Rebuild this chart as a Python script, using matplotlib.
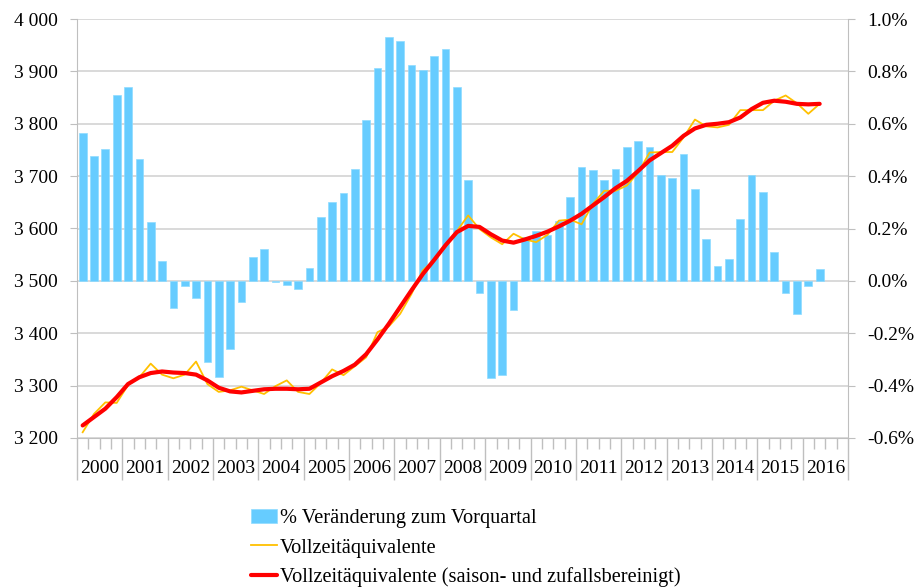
import numpy as np
import matplotlib
matplotlib.use("Agg")
import matplotlib.pyplot as plt
from matplotlib.ticker import FixedLocator

plt.rcParams['font.family'] = ['Liberation Serif', 'DejaVu Serif']

# quarterly data 2000Q1 .. 2016Q2
pct_change = [0.564, 0.475, 0.505, 0.711, 0.739, 0.466, 0.224, 0.075,
              -0.102, -0.018, -0.066, -0.310, -0.366, -0.261, -0.079, 0.093,
              0.120, -0.003, -0.015, -0.032, 0.048, 0.244, 0.302, 0.336,
              0.426, 0.615, 0.814, 0.933, 0.915, 0.823, 0.804, 0.858,
              0.885, 0.740, 0.384, -0.046, -0.369, -0.360, -0.111, 0.169,
              0.190, 0.174, 0.228, 0.319, 0.436, 0.425, 0.384, 0.427,
              0.510, 0.536, 0.513, 0.405, 0.391, 0.486, 0.352, 0.160,
              0.055, 0.085, 0.235, 0.405, 0.338, 0.111, -0.047, -0.126,
              -0.020, 0.046]

vza = [3211, 3246, 3268, 3267, 3301, 3316, 3342, 3321,
       3314, 3321, 3346, 3303, 3288, 3291, 3298, 3291,
       3284, 3299, 3310, 3288, 3284, 3305, 3331, 3320,
       3337, 3354, 3402, 3413, 3437, 3475, 3520, 3540,
       3565, 3595, 3625, 3599, 3583, 3570, 3590, 3579,
       3574, 3588, 3615, 3617, 3608, 3647, 3672, 3672,
       3682, 3707, 3745, 3746, 3746, 3774, 3808, 3795,
       3793, 3798, 3826, 3826, 3826, 3844, 3854, 3839,
       3819, 3838]

vza_sa = [3224, 3240, 3256, 3278, 3303, 3316, 3324, 3327,
          3325, 3324, 3321, 3310, 3296, 3289, 3287, 3290,
          3293, 3294, 3294, 3293, 3294, 3306, 3318, 3328,
          3340, 3360, 3388, 3418, 3450, 3482, 3513, 3540,
          3568, 3593, 3605, 3603, 3589, 3577, 3573, 3579,
          3586, 3594, 3604, 3615, 3628, 3644, 3660, 3677,
          3691, 3710, 3730, 3744, 3758, 3777, 3791, 3798,
          3800, 3803, 3812, 3828, 3840, 3844, 3842, 3838,
          3837, 3838]

years = [str(y) for y in range(2000, 2017)]

left_ticks = [3200, 3300, 3400, 3500, 3600, 3700, 3800, 3900, 4000]
left_labels = ['3 200', '3 300', '3 400', '3 500', '3 600', '3 700', '3 800', '3 900', '4 000']
right_ticks = [-0.6, -0.4, -0.2, 0.0, 0.2, 0.4, 0.6, 0.8, 1.0]
right_labels = ['-0.6%', '-0.4%', '-0.2%', '0.0%', '0.2%', '0.4%', '0.6%', '0.8%', '1.0%']

labels = ['% Veränderung zum Vorquartal',
          'Vollzeitäquivalente',
          'Vollzeitäquivalente (saison- und zufallsbereinigt)']

grey = '#bfbfbf'
fs = 14

fig = plt.figure(figsize=(9.2, 5.88), dpi=100)
ax = fig.add_axes([77 / 920, 1 - 438 / 588, 771 / 920, 419 / 588])
ax2 = ax.twinx()
ax.set_zorder(ax2.get_zorder() + 1)
ax.patch.set_visible(False)

x = np.arange(len(pct_change))
n_slots = len(years) * 4

# bars on the right axis
bars = ax2.bar(x, pct_change, width=0.68, color='#66ccff', edgecolor='#8fdcff',
               linewidth=0.5, zorder=2)
ax2.set_ylim(right_ticks[0], right_ticks[-1])
ax2.set_yticks(right_ticks)
ax2.set_yticklabels(right_labels, fontsize=fs)
ax2.yaxis.grid(True, color='#d0d0d0', linewidth=1.1)
ax2.set_axisbelow(True)
ax2.tick_params(axis='y', length=5, color=grey, pad=9)

# lines on the left axis
l1, = ax.plot(x, vza, color='#ffc000', linewidth=1.3, zorder=3)
l2, = ax.plot(x, vza_sa, color='#ff0000', linewidth=3, zorder=4,
              solid_capstyle='round')
ax.set_ylim(left_ticks[0], left_ticks[-1])
ax.set_yticks(left_ticks)
ax.set_yticklabels(left_labels, fontsize=fs)
ax.tick_params(axis='y', length=5, color=grey, pad=9)

ax.set_xlim(-0.5, n_slots - 0.5)
ax.xaxis.set_major_locator(FixedLocator(np.arange(0, n_slots + 1, 4) - 0.5))
ax.xaxis.set_minor_locator(FixedLocator(np.arange(0, n_slots + 1) - 0.5))
ax.set_xticklabels([])
ax.tick_params(axis='x', which='major', length=30, color=grey, width=1)
ax.tick_params(axis='x', which='minor', length=8, color=grey, width=1)

for k, yr in enumerate(years):
    ax.text(4 * k + 1.5, -0.072, yr, transform=ax.get_xaxis_transform(),
            ha='center', va='center', fontsize=fs)

for s in ['top', 'right']:
    ax.spines[s].set_visible(False)
for s in ['top', 'left', 'bottom']:
    ax2.spines[s].set_visible(False)
for s in ['left', 'bottom']:
    ax.spines[s].set_color(grey)
ax2.spines['right'].set_color(grey)

fig.legend([bars, l1, l2], labels, loc='upper left',
           bbox_to_anchor=(243 / 920, 1 - 501 / 588), frameon=False,
           fontsize=14.7, handlelength=1.25, handletextpad=0.15,
           labelspacing=0.48, borderaxespad=0)

fig.savefig('out.png', dpi=100, facecolor='white')
